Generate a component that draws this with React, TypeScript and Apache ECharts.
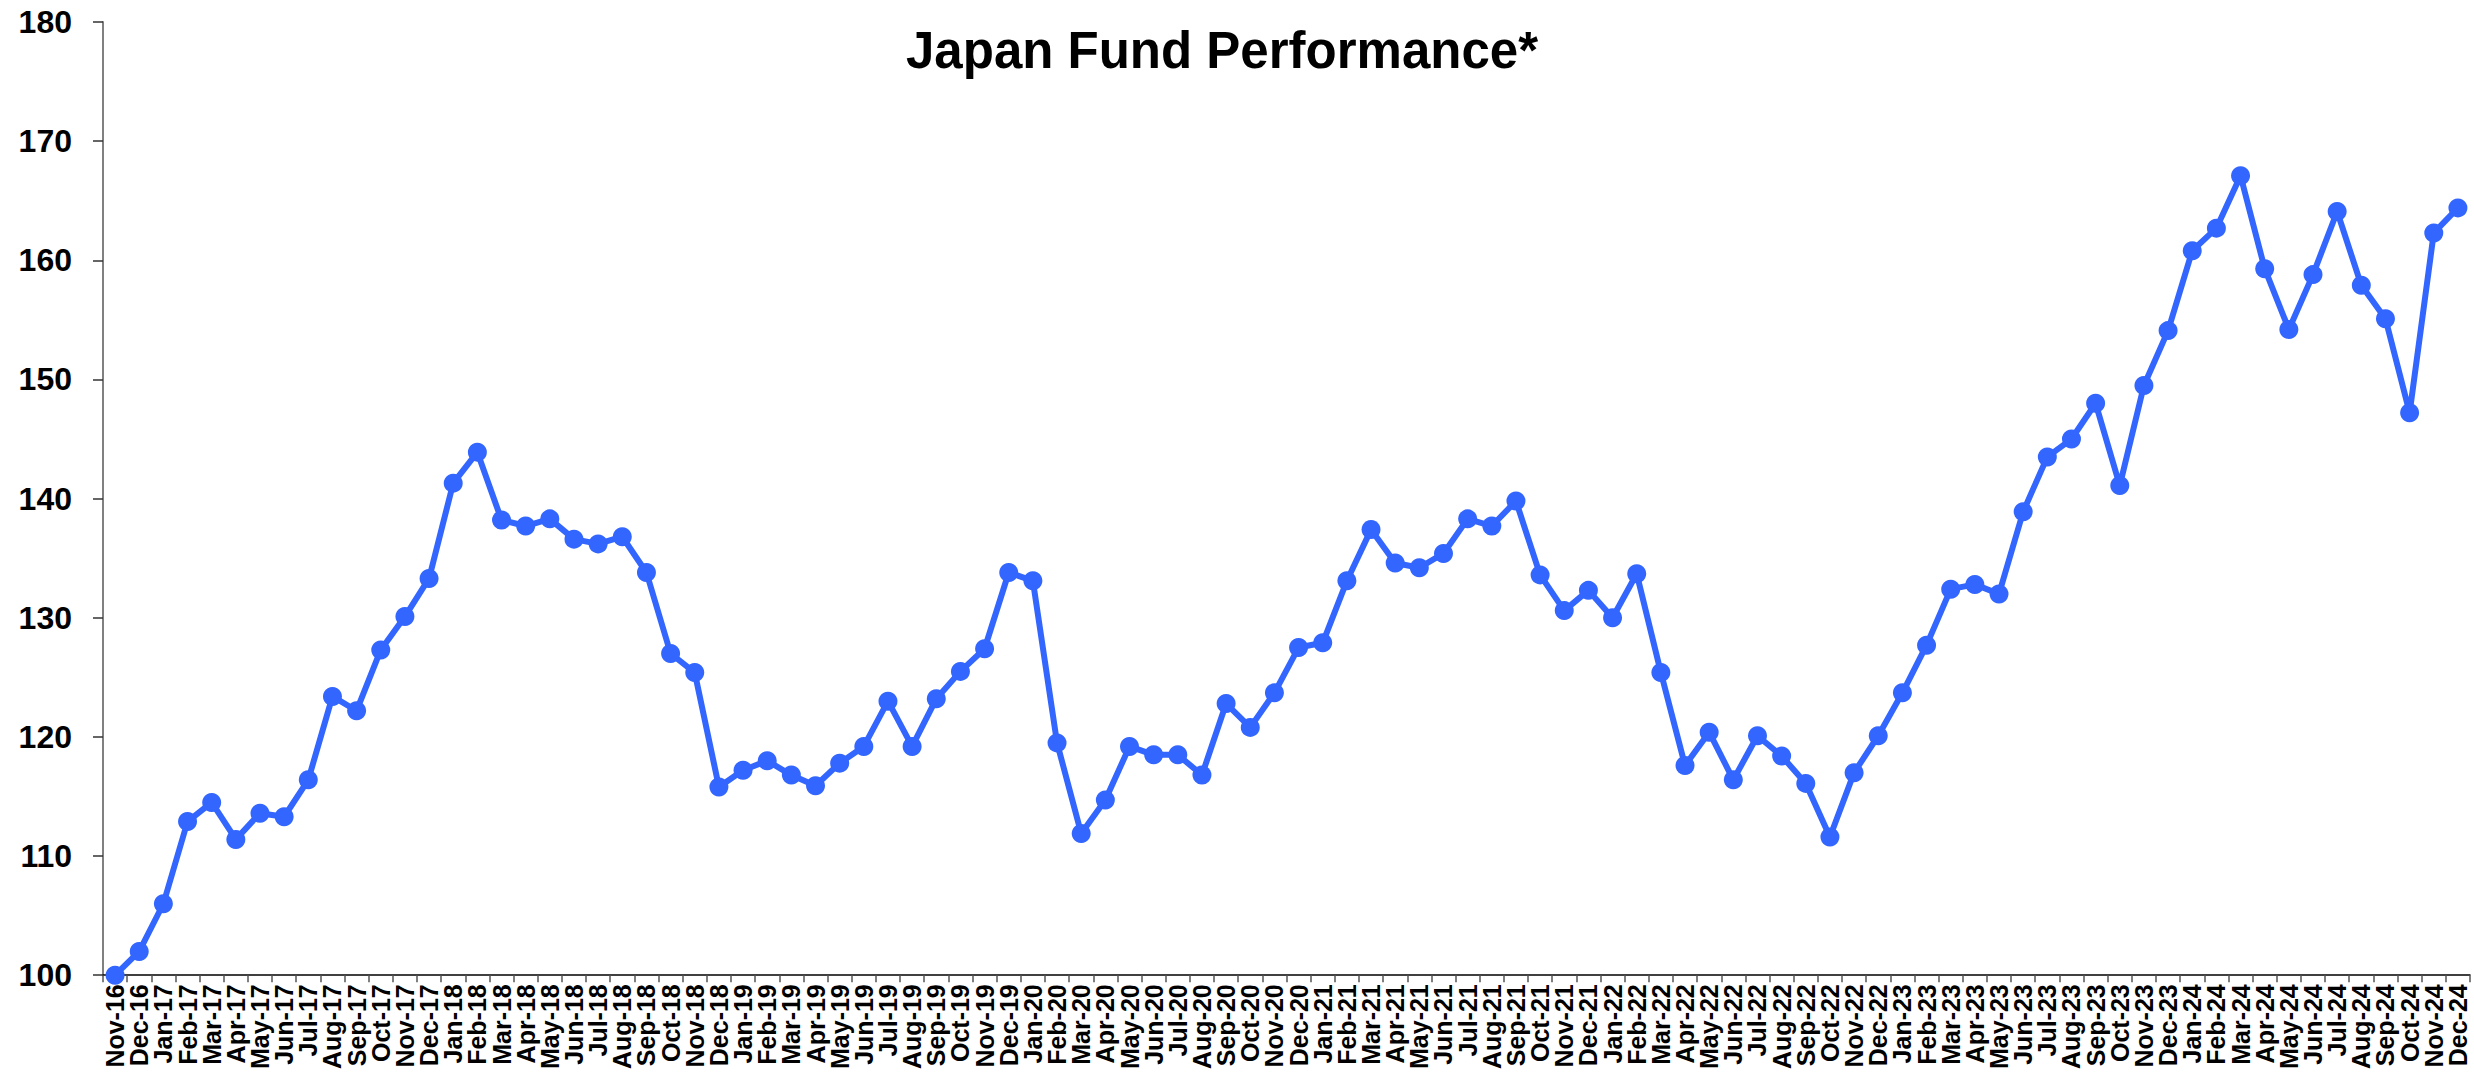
import React, { useEffect, useRef } from "react";
import * as echarts from "echarts";

const TITLE = "Japan Fund Performance*";

const categories: string[] = [
  "Nov-16", "Dec-16",
  "Jan-17", "Feb-17", "Mar-17", "Apr-17", "May-17", "Jun-17", "Jul-17", "Aug-17", "Sep-17", "Oct-17", "Nov-17", "Dec-17",
  "Jan-18", "Feb-18", "Mar-18", "Apr-18", "May-18", "Jun-18", "Jul-18", "Aug-18", "Sep-18", "Oct-18", "Nov-18", "Dec-18",
  "Jan-19", "Feb-19", "Mar-19", "Apr-19", "May-19", "Jun-19", "Jul-19", "Aug-19", "Sep-19", "Oct-19", "Nov-19", "Dec-19",
  "Jan-20", "Feb-20", "Mar-20", "Apr-20", "May-20", "Jun-20", "Jul-20", "Aug-20", "Sep-20", "Oct-20", "Nov-20", "Dec-20",
  "Jan-21", "Feb-21", "Mar-21", "Apr-21", "May-21", "Jun-21", "Jul-21", "Aug-21", "Sep-21", "Oct-21", "Nov-21", "Dec-21",
  "Jan-22", "Feb-22", "Mar-22", "Apr-22", "May-22", "Jun-22", "Jul-22", "Aug-22", "Sep-22", "Oct-22", "Nov-22", "Dec-22",
  "Jan-23", "Feb-23", "Mar-23", "Apr-23", "May-23", "Jun-23", "Jul-23", "Aug-23", "Sep-23", "Oct-23", "Nov-23", "Dec-23",
  "Jan-24", "Feb-24", "Mar-24", "Apr-24", "May-24", "Jun-24", "Jul-24", "Aug-24", "Sep-24", "Oct-24", "Nov-24", "Dec-24",
];

const values2016 = [100.0, 102.0];
const values2017 = [106.0, 112.9, 114.5, 111.4, 113.6, 113.3, 116.4, 123.4, 122.2, 127.3, 130.1, 133.3];
const values2018 = [141.3, 143.9, 138.2, 137.7, 138.3, 136.6, 136.2, 136.8, 133.8, 127.0, 125.4, 115.8];
const values2019 = [117.2, 118.0, 116.8, 115.9, 117.8, 119.2, 123.0, 119.2, 123.2, 125.5, 127.4, 133.8];
const values2020 = [133.1, 119.5, 111.9, 114.7, 119.2, 118.5, 118.5, 116.8, 122.8, 120.8, 123.7, 127.5];
const values2021 = [127.9, 133.1, 137.4, 134.6, 134.2, 135.4, 138.3, 137.7, 139.8, 133.6, 130.6, 132.3];
const values2022 = [130.0, 133.7, 125.4, 117.6, 120.4, 116.4, 120.1, 118.4, 116.1, 111.6, 117.0, 120.1];
const values2023 = [123.7, 127.7, 132.4, 132.8, 132.0, 138.9, 143.5, 145.0, 148.0, 141.1, 149.5, 154.1];
const values2024 = [160.8, 162.7, 167.1, 159.3, 154.2, 158.8, 164.1, 157.9, 155.1, 147.2, 162.3, 164.4];

const seriesValues: number[] = [
  ...values2016, ...values2017, ...values2018, ...values2019, ...values2020,
  ...values2021, ...values2022, ...values2023, ...values2024,
];

const yMin = 100;
const yMax = 180;
const yInterval = 10;

const FONT = "'Liberation Sans', Arial, Helvetica, sans-serif";
const BLUE = "#3366FF";

export default function App() {
  const ref = useRef<HTMLDivElement>(null);

  useEffect(() => {
    if (!ref.current) return;
    const chart = echarts.init(ref.current, undefined, { renderer: "svg" });
    chart.setOption({
      animation: false,
      backgroundColor: "#ffffff",
      title: {
        text: TITLE,
        left: 906,
        top: 25,
        padding: 0,
        textStyle: {
          fontFamily: FONT,
          fontSize: 51,
          fontWeight: "bold",
          color: "#000000",
        },
      },
      grid: {
        left: 103,
        right: 4,
        top: 22,
        bottom: 96,
        containLabel: false,
      },
      xAxis: {
        type: "category",
        data: categories,
        boundaryGap: true,
        axisLine: { show: true, lineStyle: { color: "#000000", width: 1.5 } },
        axisTick: {
          show: true,
          alignWithLabel: false,
          interval: 0,
          length: 7,
          lineStyle: { color: "#555555", width: 1.5 },
        },
        axisLabel: {
          interval: 0,
          rotate: 90,
          margin: 9,
          fontFamily: FONT,
          fontSize: 25,
          fontWeight: "bold",
          color: "#000000",
        },
        splitLine: { show: false },
      },
      yAxis: {
        type: "value",
        min: yMin,
        max: yMax,
        interval: yInterval,
        axisLine: { show: true, lineStyle: { color: "#808080", width: 2 } },
        axisTick: { show: true, length: 10, lineStyle: { color: "#333333", width: 1.5 } },
        axisLabel: {
          margin: 31,
          fontFamily: FONT,
          fontSize: 32,
          fontWeight: "bold",
          color: "#000000",
        },
        splitLine: { show: false },
      },
      series: [
        {
          type: "line",
          data: seriesValues,
          symbol: "circle",
          symbolSize: 19,
          showSymbol: true,
          lineStyle: { color: BLUE, width: 6 },
          itemStyle: { color: BLUE },
          z: 3,
        },
      ],
    });
    return () => chart.dispose();
  }, []);

  return (
    <div
      ref={ref}
      style={{ position: "fixed", left: 0, top: 0, width: 2474, height: 1072, background: "#fff" }}
    />
  );
}
